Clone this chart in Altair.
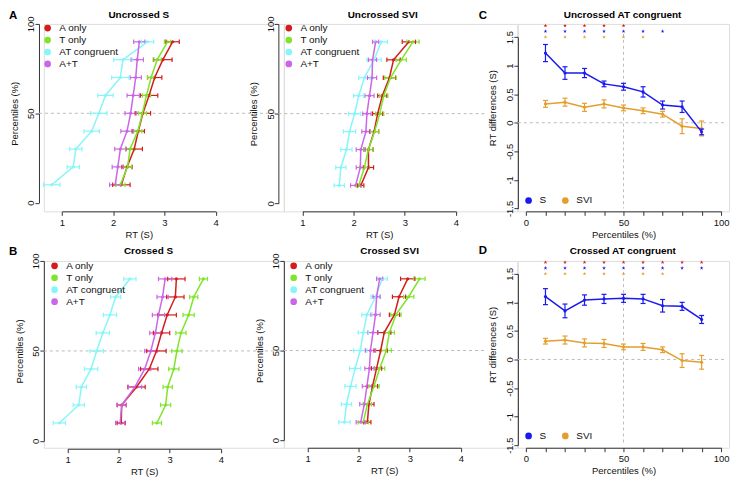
import altair as alt
import pandas as pd

FONT = "Liberation Sans"

PCT = [10, 20, 30, 40, 50, 60, 70, 80, 90]
CONDS = ["A only", "T only", "AT congruent", "A+T"]
COND_COLORS = ["#D41C1C", "#7EE52A", "#86F6F8", "#CC66E6"]
GROUPS = ["S", "SVI"]
GROUP_COLORS = ["#1A1AF0", "#E59E2E"]
STAR_COLORS = {"red": "#D41C1C", "blue": "#1A1AF0", "orange": "#E59E2E"}

# ---- RT quantiles (s) and their errors: uncrossed S ----
unc_s_a = [2.16, 2.27, 2.41, 2.49, 2.58, 2.70, 2.81, 2.97, 3.16]
unc_s_a_err = [0.17, 0.10, 0.16, 0.12, 0.15, 0.17, 0.14, 0.18, 0.13]
unc_s_t = [2.14, 2.28, 2.33, 2.48, 2.57, 2.65, 2.74, 2.86, 3.06]
unc_s_t_err = [0.09, 0.08, 0.09, 0.08, 0.08, 0.08, 0.07, 0.08, 0.06]
unc_s_at = [0.80, 1.22, 1.27, 1.58, 1.72, 1.85, 2.14, 2.19, 2.67]
unc_s_at_err = [0.16, 0.12, 0.12, 0.15, 0.16, 0.15, 0.17, 0.18, 0.12]
unc_s_apt = [2.04, 2.09, 2.14, 2.27, 2.34, 2.39, 2.44, 2.47, 2.51]
unc_s_apt_err = [0.11, 0.11, 0.11, 0.12, 0.11, 0.12, 0.11, 0.12, 0.11]

# ---- uncrossed SVI ----
unc_v_a = [2.14, 2.29, 2.29, 2.40, 2.47, 2.56, 2.70, 2.78, 3.08]
unc_v_a_err = [0.06, 0.10, 0.09, 0.09, 0.10, 0.09, 0.12, 0.13, 0.13]
unc_v_t = [2.10, 2.21, 2.29, 2.41, 2.51, 2.59, 2.72, 2.93, 3.16]
unc_v_t_err = [0.05, 0.09, 0.09, 0.08, 0.08, 0.08, 0.11, 0.10, 0.12]
unc_v_at = [1.72, 1.75, 1.86, 1.92, 2.02, 2.10, 2.21, 2.40, 2.54]
unc_v_at_err = [0.10, 0.10, 0.11, 0.12, 0.12, 0.10, 0.11, 0.14, 0.12]
unc_v_apt = [2.04, 2.13, 2.14, 2.24, 2.26, 2.31, 2.36, 2.37, 2.43]
unc_v_apt_err = [0.10, 0.08, 0.09, 0.08, 0.08, 0.09, 0.09, 0.08, 0.06]

# ---- crossed S ----
cr_s_a = [2.05, 2.06, 2.35, 2.60, 2.74, 2.84, 2.95, 3.11, 3.13]
cr_s_a_err = [0.08, 0.09, 0.17, 0.17, 0.19, 0.16, 0.18, 0.17, 0.17]
cr_s_t = [2.75, 2.92, 2.96, 3.08, 3.14, 3.22, 3.37, 3.47, 3.66]
cr_s_t_err = [0.09, 0.10, 0.09, 0.10, 0.10, 0.10, 0.11, 0.08, 0.08]
cr_s_at = [0.84, 1.22, 1.27, 1.46, 1.57, 1.69, 1.83, 1.94, 2.22]
cr_s_at_err = [0.12, 0.11, 0.10, 0.13, 0.13, 0.13, 0.13, 0.10, 0.12]
cr_s_apt = [2.03, 2.06, 2.32, 2.51, 2.63, 2.72, 2.78, 2.86, 2.91]
cr_s_apt_err = [0.09, 0.09, 0.13, 0.12, 0.12, 0.11, 0.12, 0.11, 0.13]

# ---- crossed SVI ----
cr_v_a = [2.17, 2.20, 2.27, 2.35, 2.43, 2.50, 2.70, 2.79, 2.96]
cr_v_a_err = [0.07, 0.10, 0.10, 0.10, 0.13, 0.13, 0.10, 0.13, 0.14]
cr_v_t = [2.09, 2.17, 2.30, 2.41, 2.54, 2.60, 2.73, 2.98, 3.19]
cr_v_t_err = [0.10, 0.08, 0.10, 0.10, 0.10, 0.10, 0.10, 0.10, 0.11]
cr_v_at = [1.72, 1.76, 1.84, 1.93, 2.03, 2.09, 2.16, 2.33, 2.46]
cr_v_at_err = [0.11, 0.10, 0.11, 0.11, 0.13, 0.10, 0.10, 0.09, 0.10]
cr_v_apt = [2.04, 2.11, 2.16, 2.21, 2.23, 2.28, 2.33, 2.35, 2.41]
cr_v_apt_err = [0.09, 0.09, 0.09, 0.09, 0.10, 0.10, 0.09, 0.07, 0.06]

# ---- RT differences (AT congruent gain) ----
c_s = [1.22, 0.87, 0.87, 0.68, 0.63, 0.54, 0.31, 0.28, -0.16]
c_s_err = [0.15, 0.11, 0.08, 0.05, 0.06, 0.09, 0.07, 0.10, 0.05]
c_svi = [0.33, 0.36, 0.27, 0.33, 0.26, 0.21, 0.15, -0.06, -0.10]
c_svi_err = [0.06, 0.07, 0.07, 0.07, 0.05, 0.05, 0.05, 0.13, 0.13]
d_s = [1.10, 0.85, 1.04, 1.06, 1.07, 1.06, 0.94, 0.93, 0.70]
d_s_err = [0.14, 0.12, 0.09, 0.08, 0.07, 0.08, 0.11, 0.07, 0.07]
d_svi = [0.32, 0.34, 0.29, 0.28, 0.22, 0.22, 0.17, -0.02, -0.05]
d_svi_err = [0.05, 0.07, 0.07, 0.07, 0.05, 0.06, 0.05, 0.12, 0.12]

# significance stars (percentiles)
c_star_red = [10, 20, 30, 40, 50]
c_star_blue = [10, 20, 30, 40, 50, 60, 70]
c_star_orange = [10, 20, 30, 40, 50, 60]
d_star_red = [10, 20, 30, 40, 50, 60, 70, 80, 90]
d_star_blue = [10, 20, 30, 40, 50, 60, 70, 80, 90]
d_star_orange = [10, 20, 30, 40, 50, 60, 70]

STAR_PATH = ("M0,-1L0.2245,-0.309L0.951,-0.309L0.363,0.118L0.588,0.809L0,0.382"
             "L-0.588,0.809L-0.363,0.118L-0.951,-0.309L-0.2245,-0.309Z")

ROW_H = [188.2, 187.6]
COL_W = [241, 234.3, 212]


def rt_table(vals, errs):
    rows = []
    for cond, v, e in zip(CONDS, vals, errs):
        for p, r, s in zip(PCT, v, e):
            rows.append({"cond": cond, "pct": p, "rt": r, "lo": r - s, "hi": r + s})
    return pd.DataFrame(rows)


def diff_table(vals, errs):
    rows = []
    for g, v, e in zip(GROUPS, vals, errs):
        for p, r, s in zip(PCT, v, e):
            rows.append({"grp": g, "pct": p, "val": r, "lo": r - s, "hi": r + s})
    return pd.DataFrame(rows)


def axis(**kw):
    base = dict(grid=False, domainColor="#333333", tickColor="#333333", tickSize=4,
                domainWidth=1, tickWidth=1, labelFont=FONT, titleFont=FONT,
                labelFontSize=9.5, titleFontSize=9.5, labelColor="#111111",
                titleColor="#111111", titleFontWeight="normal", labelFlush=False,
                labelOverlap=False, labelBound=False)
    base.update(kw)
    return alt.Axis(**base)


def text_layer(txt, x, y, size, align="center", baseline="middle"):
    return alt.Chart(pd.DataFrame({"t": [txt]})).mark_text(
        font=FONT, fontSize=size, fontWeight="bold", color="#000000",
        align=align, baseline=baseline
    ).encode(text="t:N", x=alt.value(x), y=alt.value(y))


def rt_panel(df, title, L, w, h):
    xs = alt.Scale(domain=[1, 4], range=L["xr"], nice=False)
    ys = alt.Scale(domain=[0, 100], range=L["yr"], nice=False)
    xa = axis(values=[1, 2, 3, 4], title="RT (S)", offset=L["xoff"], labelPadding=2,
              titlePadding=2.5)
    ya = axis(values=[0, 50, 100], title="Percentiles (%)", offset=L["yoff"],
              labelAngle=270, labelAlign="center", labelBaseline="alphabetic",
              labelPadding=1, titleAngle=270, titleX=-24.5, titleBaseline="middle",
              titleAlign="center")
    col = alt.Color("cond:N", scale=alt.Scale(domain=CONDS, range=COND_COLORS),
                    legend=alt.Legend(title=None, orient="none", legendX=L["leg"][0],
                                      legendY=L["leg"][1], direction="vertical",
                                      symbolType="circle", symbolSize=45,
                                      symbolStrokeWidth=0, labelFont=FONT,
                                      labelFontSize=10, labelColor="#111111",
                                      labelOffset=6.7, rowPadding=2, padding=0))

    def X(f):
        return alt.X(f"{f}:Q", scale=xs, axis=xa)

    def Y(f):
        return alt.Y(f"{f}:Q", scale=ys, axis=ya)

    base = alt.Chart(df)
    dash = alt.Chart(pd.DataFrame({"v": [0]})).mark_rule(
        color="#BBBBBB", strokeDash=[3, 3], strokeWidth=1
    ).encode(y=alt.YDatum(50, type="quantitative", scale=ys, axis=ya),
             x=alt.value(L["dash"][0]), x2=alt.value(L["dash"][1]))
    pts = base.mark_point(filled=True, size=10, opacity=1).encode(x=X("rt"), y=Y("pct"), color=col)
    bars = base.mark_rule(strokeWidth=1.2).encode(x=X("lo"), x2="hi:Q", y=Y("pct"), color=col)
    cap_lo = base.mark_tick(orient="vertical", size=4.5, thickness=1.2, opacity=1).encode(
        x=X("lo"), y=Y("pct"), color=col)
    cap_hi = base.mark_tick(orient="vertical", size=4.5, thickness=1.2, opacity=1).encode(
        x=X("hi"), y=Y("pct"), color=col)
    line = base.mark_line(strokeWidth=1.5).encode(x=X("rt"), y=Y("pct"), color=col,
                                                   order="pct:Q")
    layers = [dash, pts, bars, cap_lo, cap_hi, line,
              text_layer(title, L["tx"], L["ty"], 10)]
    if L.get("lab"):
        layers.append(text_layer(L["lab"], L["labx"], L["laby"], 11.5, "left", "top"))
    return alt.layer(*layers).properties(width=w, height=h)


def diff_panel(df, title, stars, L, w, h):
    xs = alt.Scale(domain=[0, 100], range=L["xr"], nice=False)
    ys = alt.Scale(domain=[-1.5, 1.5], range=L["yr"], nice=False)
    xa = axis(values=list(range(0, 101, 10)), title="Percentiles (%)", offset=L["xoff"],
              labelExpr="datum.value % 50 === 0 ? datum.label : ''", labelPadding=2,
              titlePadding=2.5)
    ya = axis(values=[-1.5, -1.0, -0.5, 0.0, 0.5, 1.0, 1.5], title="RT differences (S)",
              labelExpr="'' + datum.value", labelAngle=270, labelAlign="center",
              labelBaseline="alphabetic", labelPadding=1.5, titleAngle=270,
              titleX=-25.2, titleY=L["titleY"], titleBaseline="middle", titleAlign="center")
    col = alt.Color("grp:N", scale=alt.Scale(domain=GROUPS, range=GROUP_COLORS),
                    legend=alt.Legend(title=None, orient="none", legendX=L["leg"][0],
                                      legendY=L["leg"][1], direction="horizontal",
                                      symbolType="circle", symbolSize=45,
                                      symbolStrokeWidth=0, labelFont=FONT,
                                      labelFontSize=10, labelColor="#111111",
                                      labelOffset=6, columnPadding=13.9, padding=0))

    def X(f):
        return alt.X(f"{f}:Q", scale=xs, axis=xa)

    def Y(f):
        return alt.Y(f"{f}:Q", scale=ys, axis=ya)

    one = pd.DataFrame({"v": [0]})
    hdash = alt.Chart(one).mark_rule(color="#BBBBBB", strokeDash=[3, 3], strokeWidth=1).encode(
        y=alt.YDatum(0, type="quantitative", scale=ys, axis=ya),
        x=alt.value(L["hdash"][0]), x2=alt.value(L["hdash"][1]))
    vdash = alt.Chart(one).mark_rule(color="#BBBBBB", strokeDash=[3, 3], strokeWidth=1).encode(
        x=alt.XDatum(50, type="quantitative", scale=xs, axis=xa),
        y=alt.value(L["vdash"][0]), y2=alt.value(L["vdash"][1]))
    pts = alt.Chart(df).mark_point(filled=True, size=10, opacity=1).encode(
        x=X("pct"), y=Y("val"), color=col)
    layers = [hdash, vdash, pts]
    for g in ["SVI", "S"]:
        sub = alt.Chart(df[df["grp"] == g])
        layers += [
            sub.mark_rule(strokeWidth=1.2).encode(x=X("pct"), y=Y("lo"), y2="hi:Q", color=col),
            sub.mark_tick(orient="horizontal", size=5, thickness=1.2, opacity=1).encode(
                x=X("pct"), y=Y("lo"), color=col),
            sub.mark_tick(orient="horizontal", size=5, thickness=1.2, opacity=1).encode(
                x=X("pct"), y=Y("hi"), color=col),
            sub.mark_line(strokeWidth=1.5).encode(x=X("pct"), y=Y("val"), color=col,
                                                  order="pct:Q"),
        ]
    for level, key, lst in stars:
        layers.append(
            alt.Chart(pd.DataFrame({"pct": lst})).mark_point(
                shape=STAR_PATH, filled=True, size=16, opacity=1, color=STAR_COLORS[key]
            ).encode(x=X("pct"), y=alt.YDatum(level, type="quantitative", scale=ys, axis=ya))
        )
    layers.append(text_layer(title, L["tx"], L["ty"], 10))
    layers.append(text_layer(L["lab"], L["labx"], L["laby"], 11.5, "left", "top"))
    return alt.layer(*layers).properties(width=w, height=h)


LA = dict(xr=[18.2, 172.5], yr=[179.5, 0], yoff=4.9, xoff=0, leg=(-1.2, -0.8),
          dash=(-4.9, 235.5), tx=95.3, ty=-9.4, lab="A", labx=-35, laby=-13.5)
LAs = dict(xr=[18.7, 172.8], yr=[180.2, 0], yoff=5.5, xoff=0, leg=(-0.05, -0.8),
           dash=(-5.5, 204.2), tx=99.3, ty=-9.4)
LB = dict(xr=[23.8, 177.7], yr=[180.8, 0], yoff=0, xoff=1, leg=(5.75, -0.1),
          dash=(0, 241), tx=105.1, ty=-9.6, lab="B", labx=-35, laby=-15.2)
LBs = dict(xr=[23.9, 177.7], yr=[179.9, 0], yoff=0, xoff=0, leg=(4.85, -0.1),
           dash=(0, 204.2), tx=106.2, ty=-9.6)
LC = dict(xr=[8.1, 204.1], yr=[185.3, 13.2], xoff=0, leg=(5.75, 172.3), hdash=(0, 209),
          vdash=(10, 185.3), tx=105.1, ty=-9.4, lab="C", labx=-39.4, laby=-13.5, titleY=84.1)
LD = dict(xr=[8.1, 204.1], yr=[185.0, 12.9], xoff=0, leg=(5.75, 170.7), hdash=(0, 209),
          vdash=(11.3, 185.0), tx=105.4, ty=-9.6, lab="D", labx=-39.4, laby=-15.5, titleY=83.9)

pA = rt_panel(rt_table([unc_s_a, unc_s_t, unc_s_at, unc_s_apt],
                       [unc_s_a_err, unc_s_t_err, unc_s_at_err, unc_s_apt_err]),
              "Uncrossed S", LA, COL_W[0], ROW_H[0])
pAs = rt_panel(rt_table([unc_v_a, unc_v_t, unc_v_at, unc_v_apt],
                        [unc_v_a_err, unc_v_t_err, unc_v_at_err, unc_v_apt_err]),
               "Uncrossed SVI", LAs, COL_W[1], ROW_H[0])
pB = rt_panel(rt_table([cr_s_a, cr_s_t, cr_s_at, cr_s_apt],
                       [cr_s_a_err, cr_s_t_err, cr_s_at_err, cr_s_apt_err]),
              "Crossed S", LB, COL_W[0], ROW_H[1])
pBs = rt_panel(rt_table([cr_v_a, cr_v_t, cr_v_at, cr_v_apt],
                        [cr_v_a_err, cr_v_t_err, cr_v_at_err, cr_v_apt_err]),
               "Crossed SVI", LBs, COL_W[1], ROW_H[1])
pC = diff_panel(diff_table([c_s, c_svi], [c_s_err, c_svi_err]), "Uncrossed AT congruent",
                [(1.7, "red", c_star_red), (1.6, "blue", c_star_blue),
                 (1.5, "orange", c_star_orange)], LC, COL_W[2], ROW_H[0])
pD = diff_panel(diff_table([d_s, d_svi], [d_s_err, d_svi_err]), "Crossed AT congruent",
                [(1.7, "red", d_star_red), (1.6, "blue", d_star_blue),
                 (1.5, "orange", d_star_orange)], LD, COL_W[2], ROW_H[1])

chart = alt.concat(
    pA, pAs, pC, pB, pBs, pD, columns=3,
    spacing={"row": 49, "column": 0}, bounds="flush", align="each"
).resolve_scale(color="independent").resolve_legend(color="independent").properties(
    padding=0
).configure_view(stroke=None).configure_axis(labelOverlap=False).configure(
    font=FONT, background="white")

chart.save("out.html", embed_options={"renderer": "svg", "actions": False})
